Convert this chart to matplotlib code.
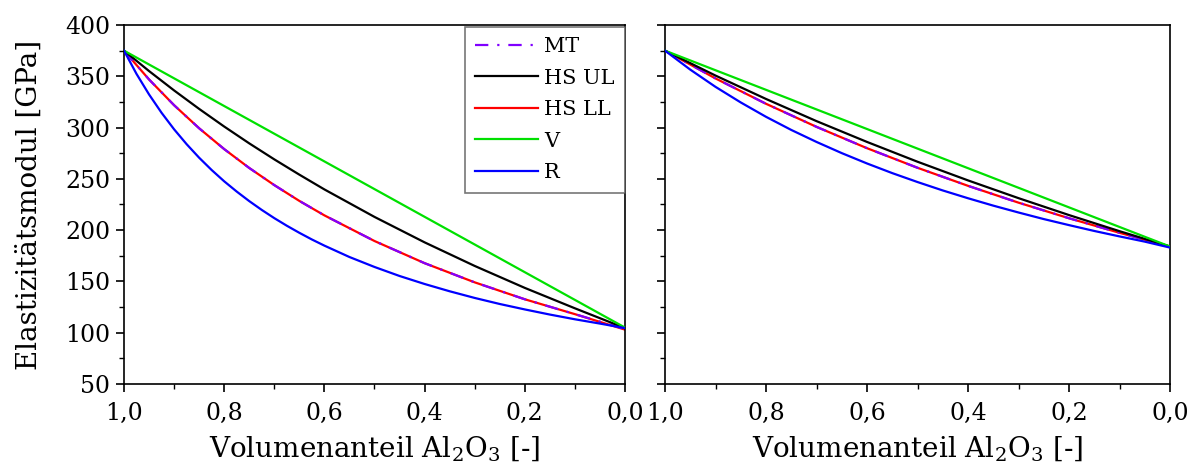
import matplotlib
matplotlib.use("Agg")
import matplotlib.pyplot as plt
from matplotlib.ticker import MultipleLocator, FuncFormatter

# ---- data -------------------------------------------------------------
# volume fraction Al2O3 (x axis runs from 1,0 down to 0,0)
x_hs_left = [1.0, 0.95, 0.9, 0.85, 0.8, 0.75, 0.7, 0.65, 0.6, 0.5, 0.4, 0.3, 0.2, 0.1, 0.0]
x_coarse = [1.0, 0.9, 0.8, 0.7, 0.6, 0.5, 0.4, 0.3, 0.2, 0.1, 0.0]
x_r_left = [1.0, 0.975, 0.95, 0.925, 0.9, 0.875, 0.85, 0.825, 0.8, 0.775, 0.75, 0.725,
            0.7, 0.675, 0.65, 0.625, 0.6, 0.55, 0.5, 0.45, 0.4, 0.35, 0.3, 0.25,
            0.2, 0.15, 0.1, 0.05, 0.0]
x_fine = [1.0, 0.95, 0.9, 0.85, 0.8, 0.75, 0.7, 0.65, 0.6, 0.55, 0.5,
          0.45, 0.4, 0.35, 0.3, 0.25, 0.2, 0.15, 0.1, 0.05, 0.0]

# left panel [GPa]
left_mt = [375, 346.9, 321.8, 299.3, 279.0, 260.6, 243.9, 228.5, 214.4, 189.4, 167.8,
           149.1, 132.6, 118.1, 103.5]
left_hs_ul = [375, 355.1, 336.2, 318.2, 301.0, 284.6, 269.0, 254.1, 239.7, 212.9, 188.1,
              165.1, 143.7, 123.8, 104.5]
left_hs_ll = [375, 346.9, 321.8, 299.3, 279.0, 260.6, 243.9, 228.5, 214.4, 189.4, 167.8,
              149.1, 132.6, 118.1, 103.0]
left_v = [375, 348, 321, 294, 267, 240, 213, 186, 159, 132, 105]
left_r = [375, 352.3, 332.3, 314.4, 298.3, 283.8, 270.6, 258.6, 247.6, 237.6, 228.3, 219.7,
          211.7, 204.3, 197.4, 190.9, 184.9, 173.8, 164.1, 155.3, 147.5, 140.4, 133.9,
          128.0, 122.7, 117.7, 113.1, 108.9, 104.5]

# right panel [GPa]
right_mt = [375, 347.9, 323.2, 300.7, 279.9, 260.8, 243.2, 226.8, 211.6, 197.4, 184]
right_hs_ul = [375, 350.7, 327.9, 306.3, 286.0, 266.7, 248.5, 231.2, 214.7, 199.0, 184]
right_hs_ll = [375, 347.9, 323.2, 300.7, 279.9, 260.8, 243.2, 226.8, 211.6, 197.4, 184]
right_v = [375, 355.9, 336.8, 317.7, 298.6, 279.5, 260.4, 241.3, 222.2, 203.1, 184]
right_r = [375, 356.5, 339.7, 324.5, 310.5, 297.7, 286.0, 275.1, 265.0, 255.6, 246.9,
           238.7, 231.1, 223.9, 217.2, 210.8, 204.9, 199.2, 193.9, 188.8, 183]

legend_labels = ["MT", "HS UL", "HS LL", "V", "R"]
x_label = "Volumenanteil Al$_2$O$_3$ [-]"
y_label = "Elastizitätsmodul [GPa]"

# ---- style ------------------------------------------------------------
FONT = 'DejaVu Serif'
plt.rcParams['font.family'] = [FONT, 'Liberation Serif']
plt.rcParams['mathtext.fontset'] = 'custom'
plt.rcParams['mathtext.rm'] = FONT

W, H = 1195, 463
fig = plt.figure(figsize=(W / 100, H / 100), dpi=100)

axL = fig.add_axes([124 / W, 1 - 384 / H, (625 - 124) / W, 359 / H])
axR = fig.add_axes([665 / W, 1 - 384 / H, (1170 - 665) / W, 359 / H])

comma = FuncFormatter(lambda v, p: f"{v:.1f}".replace(".", ","))


def draw(ax, x_hs, mt, ul, ll, v, x_r, r):
    lw = 1.6
    h_mt, = ax.plot(x_hs, mt, color="#8000ff", lw=lw, ls=(0, (6, 4, 1, 4)), zorder=2)
    h_ul, = ax.plot(x_hs, ul, color="black", lw=lw, zorder=3)
    h_ll, = ax.plot(x_hs, ll, color="#ff0000", lw=lw, zorder=1.5)
    h_v, = ax.plot(x_coarse, v, color="#00e000", lw=lw, zorder=3)
    h_r, = ax.plot(x_r, r, color="#0000ff", lw=lw, zorder=3)
    ax.set_xlim(1.0, 0.0)
    ax.set_ylim(50, 400)
    ax.xaxis.set_major_locator(MultipleLocator(0.2))
    ax.xaxis.set_minor_locator(MultipleLocator(0.1))
    ax.yaxis.set_major_locator(MultipleLocator(50))
    ax.yaxis.set_minor_locator(MultipleLocator(25))
    ax.xaxis.set_major_formatter(comma)
    ax.tick_params(which="major", direction="out", length=6, width=1.2,
                   labelsize=17, top=False, right=False, pad=4)
    ax.tick_params(axis="x", which="major", pad=7)
    ax.tick_params(which="minor", direction="out", length=3.5, width=1.0,
                   top=False, right=False)
    for s in ax.spines.values():
        s.set_linewidth(1.2)
    ax.set_xlabel(x_label, fontsize=20, labelpad=7)
    return [h_mt, h_ul, h_ll, h_v, h_r]


handles = draw(axL, x_hs_left, left_mt, left_hs_ul, left_hs_ll, left_v, x_r_left, left_r)
draw(axR, x_coarse, right_mt, right_hs_ul, right_hs_ll, right_v, x_fine, right_r)

axL.set_ylabel(y_label, fontsize=20, labelpad=16)
axR.tick_params(axis="y", labelleft=False)

leg = axL.legend(handles, legend_labels, loc="upper right", bbox_to_anchor=(1.0, 0.995),
                 fontsize=15, frameon=True, fancybox=False, borderaxespad=0,
                 handlelength=3.0, handletextpad=0.3, labelspacing=0.6,
                 borderpad=0.5)
leg.get_frame().set_edgecolor("#555555")
leg.get_frame().set_linewidth(1.2)

fig.savefig("out.png", dpi=100)
